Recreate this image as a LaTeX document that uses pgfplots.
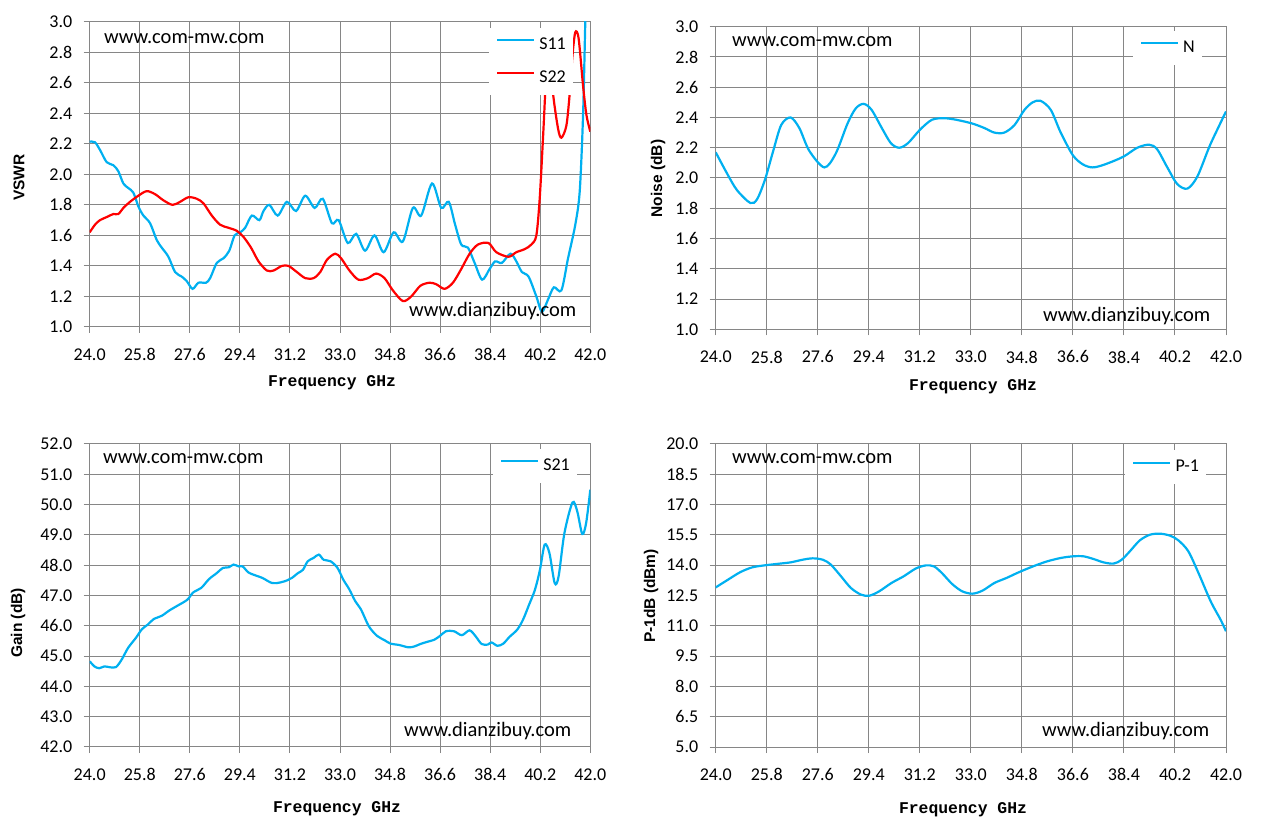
\documentclass[border=0pt]{standalone}
\usepackage{fontspec}
\setmainfont{Carlito}
\newfontfamily\ylabfont{Liberation Sans}
\newfontfamily\xlabfont{Liberation Mono}
\usepackage{pgfplots}
\pgfplotsset{compat=1.18}
\usepackage{pgfplotstable}
\definecolor{cblue}{RGB}{0,176,240}
\definecolor{cred}{RGB}{255,0,0}
\definecolor{cgrid}{RGB}{134,134,134}

\pgfplotstableread{
f v
24.00 2.214
24.19 2.21
24.37 2.16
24.61 2.08
24.85 2.06
25.03 2.02
25.21 1.94
25.39 1.91
25.57 1.88
25.75 1.79
25.93 1.73
26.17 1.68
26.41 1.57
26.59 1.52
26.83 1.46
27.07 1.36
27.31 1.33
27.49 1.30
27.70 1.25
27.91 1.29
28.18 1.29
28.33 1.32
28.57 1.42
28.81 1.45
29.02 1.50
29.21 1.60
29.41 1.62
29.59 1.65
29.83 1.73
30.10 1.70
30.25 1.76
30.46 1.80
30.76 1.73
31.09 1.82
31.42 1.76
31.75 1.86
32.09 1.78
32.38 1.84
32.71 1.68
32.95 1.70
33.28 1.55
33.58 1.61
33.90 1.50
34.24 1.60
34.57 1.49
34.93 1.62
35.26 1.56
35.62 1.78
35.92 1.73
36.31 1.94
36.64 1.78
36.91 1.82
37.14 1.67
37.36 1.54
37.60 1.52
37.84 1.42
38.11 1.31
38.38 1.38
38.58 1.43
38.82 1.42
39.13 1.48
39.34 1.43
39.54 1.36
39.78 1.33
40.06 1.20
40.26 1.10
40.48 1.18
40.69 1.26
40.96 1.24
41.20 1.45
41.46 1.67
41.62 1.89
41.74 2.39
41.82 3.00
41.88 3.40
}\tableSeleven

\pgfplotstableread{
f v
24.00 1.62
24.19 1.67
24.37 1.70
24.61 1.72
24.85 1.74
25.03 1.74
25.21 1.78
25.45 1.82
25.75 1.86
26.05 1.89
26.35 1.87
26.65 1.83
26.98 1.80
27.25 1.82
27.55 1.85
27.85 1.84
28.09 1.81
28.39 1.73
28.69 1.67
28.99 1.65
29.29 1.63
29.53 1.59
29.80 1.52
30.07 1.43
30.37 1.37
30.61 1.37
30.91 1.40
31.15 1.40
31.45 1.36
31.75 1.32
32.05 1.32
32.29 1.36
32.53 1.44
32.83 1.48
33.04 1.45
33.34 1.37
33.66 1.31
34.00 1.32
34.30 1.35
34.60 1.32
34.90 1.24
35.26 1.17
35.56 1.20
35.89 1.27
36.22 1.29
36.46 1.28
36.76 1.25
37.06 1.29
37.36 1.38
37.66 1.48
37.96 1.54
38.34 1.55
38.62 1.49
39.06 1.46
39.34 1.49
39.64 1.51
39.88 1.54
40.06 1.60
40.18 1.84
40.30 2.24
40.38 2.54
40.45 2.80
40.52 2.85
40.59 2.75
40.66 2.53
40.84 2.30
40.96 2.24
41.14 2.32
41.26 2.53
41.36 2.78
41.46 2.93
41.58 2.89
41.74 2.58
41.86 2.39
42.00 2.28
}\tableStwotwo

\pgfplotstableread{
f v
24.00 2.17
24.40 2.03
24.75 1.92
25.22 1.835
25.46 1.86
25.74 1.99
26.03 2.18
26.31 2.35
26.64 2.40
26.95 2.33
27.30 2.18
27.83 2.07
28.23 2.16
28.65 2.36
28.94 2.46
29.22 2.49
29.50 2.45
29.86 2.33
30.18 2.23
30.47 2.20
30.78 2.23
31.21 2.32
31.63 2.385
32.06 2.395
32.48 2.385
33.05 2.36
33.48 2.33
33.83 2.30
34.18 2.30
34.54 2.35
34.89 2.45
35.18 2.50
35.46 2.51
35.82 2.45
36.17 2.30
36.60 2.15
36.95 2.09
37.30 2.07
37.73 2.09
38.37 2.14
38.87 2.20
39.29 2.22
39.57 2.19
39.93 2.07
40.28 1.96
40.64 1.93
40.99 2.01
41.42 2.21
41.77 2.35
42.00 2.44
}\tableNoise

\pgfplotstableread{
f v
24.00 44.83
24.17 44.66
24.34 44.60
24.53 44.66
24.74 44.63
24.95 44.64
25.16 44.90
25.38 45.27
25.66 45.60
25.88 45.89
26.09 46.04
26.30 46.22
26.59 46.33
26.87 46.51
27.15 46.66
27.51 46.86
27.72 47.10
28.01 47.25
28.29 47.54
28.57 47.74
28.79 47.91
29.00 47.93
29.17 48.02
29.36 47.96
29.50 47.96
29.71 47.76
30.00 47.65
30.21 47.58
30.56 47.41
30.85 47.43
31.10 47.50
31.27 47.58
31.49 47.74
31.67 47.85
31.84 48.13
32.05 48.24
32.24 48.35
32.41 48.18
32.66 48.13
32.91 47.91
33.12 47.52
33.33 47.21
33.55 46.81
33.76 46.53
34.04 45.98
34.33 45.67
34.61 45.52
34.82 45.41
35.11 45.37
35.46 45.29
35.68 45.32
35.89 45.40
36.17 45.48
36.39 45.54
36.60 45.67
36.81 45.82
37.10 45.82
37.38 45.69
37.66 45.85
37.88 45.65
38.09 45.40
38.31 45.38
38.45 45.45
38.66 45.34
38.87 45.41
39.09 45.63
39.37 45.87
39.58 46.20
39.80 46.70
40.01 47.19
40.19 47.85
40.36 48.68
40.53 48.40
40.72 47.41
40.86 47.63
41.07 49.06
41.36 50.07
41.53 49.78
41.71 49.03
41.85 49.39
42.00 50.49
}\tableGain

\pgfplotstableread{
f v
24.00 12.90
24.43 13.28
24.86 13.65
25.28 13.89
25.71 13.99
26.14 14.06
26.64 14.14
27.06 14.27
27.42 14.34
27.78 14.27
28.06 14.03
28.42 13.45
28.77 12.87
29.13 12.54
29.42 12.49
29.77 12.71
30.20 13.12
30.63 13.45
31.05 13.83
31.41 13.99
31.70 13.94
31.98 13.61
32.34 13.07
32.69 12.71
33.05 12.59
33.41 12.74
33.83 13.12
34.26 13.37
34.69 13.65
35.19 13.94
35.69 14.19
36.18 14.36
36.61 14.44
36.97 14.44
37.32 14.31
37.68 14.14
38.04 14.08
38.32 14.27
38.61 14.69
38.96 15.23
39.32 15.51
39.68 15.56
40.03 15.46
40.32 15.23
40.67 14.69
41.03 13.61
41.46 12.21
41.81 11.30
42.00 10.73
}\tableP

\pgfplotsset{
  myaxis/.style={
    scale only axis,
    anchor=south west,
    xmin=24, xmax=42,
    xtick={24,25.8,27.6,29.4,31.2,33,34.8,36.6,38.4,40.2,42},
    grid=major,
    grid style={draw=cgrid, line width=1bp},
    axis line style={draw=cgrid, line width=1bp},
    tick style={draw=cgrid, line width=1bp},
    tick align=outside,
    major tick length=6bp,
    xtick pos=left, ytick pos=left,
    ticklabel style={font=\fontsize{18bp}{20bp}\selectfont},
    /pgf/number format/assume math mode=true,
    xticklabel style={yshift=-12bp, /pgf/number format/fixed, /pgf/number format/fixed zerofill, /pgf/number format/precision=1},
    yticklabel style={xshift=-8bp, /pgf/number format/fixed, /pgf/number format/fixed zerofill, /pgf/number format/precision=1},
    legend style={anchor=north east, fill=white, draw=none,
      font=\fontsize{18bp}{20bp}\selectfont, inner xsep=7bp, inner ysep=8.5bp,
      row sep=16bp, legend cell align=left,
      nodes={inner sep=0pt, text height=13bp, text depth=4bp},
      /tikz/every odd column/.append style={column sep=4bp}},
    legend image code/.code={\draw[#1] (0bp,4.5bp) -- (37bp,4.5bp);},
    every axis plot/.append style={line width=2.2bp, smooth},
  }
}

\begin{document}
\begin{tikzpicture}
\path[use as bounding box] (0,0) rectangle (1261bp,831bp);

% top left
\begin{axis}[myaxis, at={(89.7bp,504bp)}, width=500.6bp, height=305.3bp,
  ymin=1, ymax=3, ytick={1,1.2,1.4,1.6,1.8,2,2.2,2.4,2.6,2.8,3},
  legend style={at={(0.9655,0.981)}}]
\addplot[cblue] table[x=f,y=v] {\tableSeleven};
\addlegendentry{S11}
\addplot[cred] table[x=f,y=v] {\tableStwotwo};
\addlegendentry{S22}
\end{axis}

% top right
\begin{axis}[myaxis, at={(715.7bp,501.7bp)}, width=510.3bp, height=302.6bp,
  ymin=1, ymax=3, ytick={1,1.2,1.4,1.6,1.8,2,2.2,2.4,2.6,2.8,3},
  legend style={at={(0.953,0.988)}}]
\addplot[cblue] table[x=f,y=v] {\tableNoise};
\addlegendentry{N}
\end{axis}

% bottom left
\begin{axis}[myaxis, at={(89.7bp,84bp)}, width=500.6bp, height=303bp,
  ymin=42, ymax=52, ytick={42,43,...,52},
  legend style={at={(0.9734,0.985)}}]
\addplot[cblue] table[x=f,y=v] {\tableGain};
\addlegendentry{S21}
\end{axis}

% bottom right
\begin{axis}[myaxis, at={(715.7bp,84bp)}, width=510.3bp, height=303bp,
  ymin=5, ymax=20, ytick={5,6.5,8,9.5,11,12.5,14,15.5,17,18.5,20},
  legend style={at={(0.961,0.980)}}]
\addplot[cblue] table[x=f,y=v] {\tableP};
\addlegendentry{P-1}
\end{axis}

% watermarks
\begin{scope}[every node/.style={inner sep=0pt, anchor=base west, font=\fontsize{20.5bp}{22bp}\selectfont}]
\node at (104bp,{831bp-43.3bp}) {www.com-mw.com};
\node at (409bp,{831bp-316.7bp}) {www.dianzibuy.com};
\node at (732bp,{831bp-46.5bp}) {www.com-mw.com};
\node at (1043bp,{831bp-321.7bp}) {www.dianzibuy.com};
\node at (103bp,{831bp-463.3bp}) {www.com-mw.com};
\node at (404bp,{831bp-736.7bp}) {www.dianzibuy.com};
\node at (732bp,{831bp-464bp}) {www.com-mw.com};
\node at (1042bp,{831bp-736.7bp}) {www.dianzibuy.com};
\end{scope}

% y labels
\begin{scope}[every node/.style={inner sep=0pt, rotate=90, font=\ylabfont\bfseries\fontsize{15.5bp}{17bp}\selectfont}]
\node at (19bp,653.5bp) {VSWR};
\node at (658bp,652.5bp) {Noise (dB)};
\node at (18bp,208bp) {Gain (dB)};
\node at (651bp,235bp) {P-1dB (dBm)};
\end{scope}

% x labels
\begin{scope}[every node/.style={inner sep=0pt, font=\xlabfont\bfseries\fontsize{16.4bp}{18bp}\selectfont}]
\node at (332bp,448bp) {Frequency GHz};
\node at (973bp,444.3bp) {Frequency GHz};
\node at (337bp,22bp) {Frequency GHz};
\node at (963bp,21.7bp) {Frequency GHz};
\end{scope}
\end{tikzpicture}
\end{document}
